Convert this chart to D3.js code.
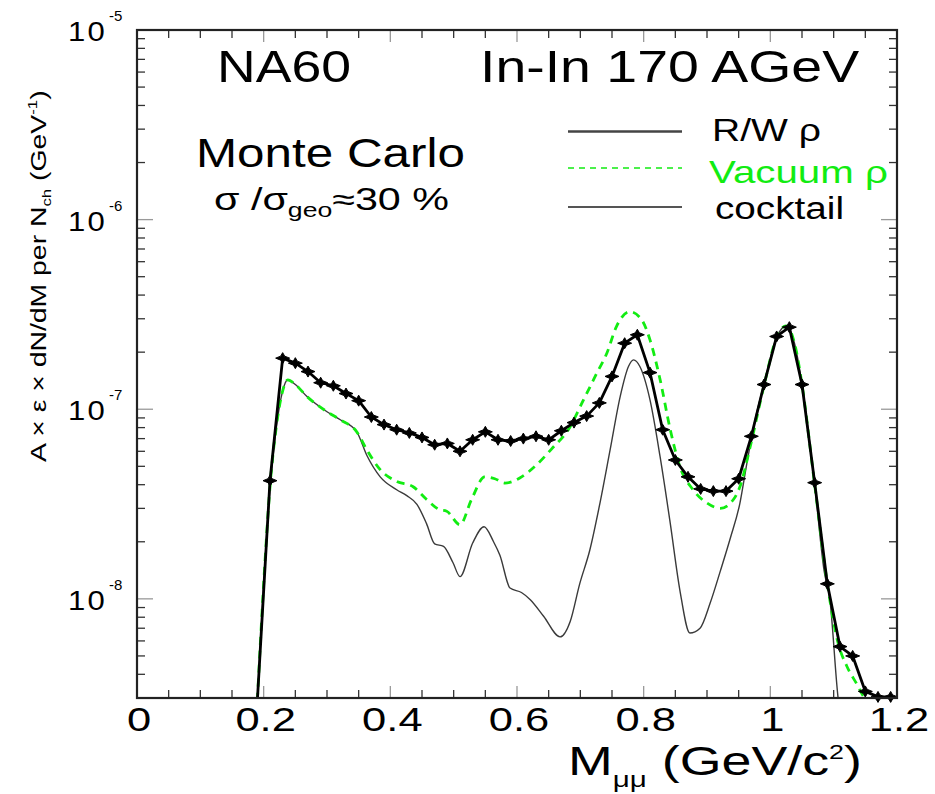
<!DOCTYPE html>
<html>
<head>
<meta charset="utf-8">
<script src="https://cdn.jsdelivr.net/npm/d3@7"></script>
<style>
  html, body { margin: 0; padding: 0; background: #fff; }
  svg { display: block; font-family: "Liberation Sans", Arial, Helvetica, sans-serif; }
</style>
</head>
<body>
<svg id="chart" width="935" height="794"></svg>
<script>
// ---------------- data ----------------
// R/W rho (thick black line with markers), 20 MeV bins
const rwMass = [0.19,0.21,0.23,0.25,0.27,0.29,0.31,0.33,0.35,0.37,0.39,0.41,0.43,0.45,0.47,0.49,0.51,0.53,0.55,0.57,0.59,
  0.61,0.63,0.65,0.67,0.69,0.71,0.73,0.75,0.77,0.79,0.81,0.83,0.85,0.87,0.89,0.91,0.93,0.95,0.97,0.99,
  1.01,1.03,1.05,1.07,1.09,1.11,1.13,1.15,1.17,1.19];
const rwValue = [2.9e-9,4.2e-8,1.86e-7,1.75e-7,1.58e-7,1.38e-7,1.33e-7,1.21e-7,1.11e-7,9.1e-8,8.3e-8,7.8e-8,7.5e-8,7.1e-8,6.5e-8,6.6e-8,6.0e-8,6.9e-8,7.6e-8,6.9e-8,6.8e-8,
  7.0e-8,7.2e-8,6.9e-8,7.7e-8,8.5e-8,9.2e-8,1.08e-7,1.49e-7,2.23e-7,2.47e-7,1.56e-7,7.8e-8,5.4e-8,4.4e-8,3.8e-8,3.7e-8,3.7e-8,4.3e-8,7.2e-8,1.35e-7,
  2.42e-7,2.71e-7,1.35e-7,4.1e-8,1.2e-8,5.6e-9,5.0e-9,3.25e-9,3.04e-9,3.04e-9];

// Vacuum rho (green dashed)
const vacMass = [0.19,0.20,0.21,0.22,0.23,0.238,0.25,0.268,0.30,0.321,0.347,0.363,0.384,0.41,0.436,0.457,0.478,0.489,0.51,0.528,0.549,
  0.565,0.581,0.605,0.631,0.657,0.681,0.705,0.726,0.742,0.757,0.778,0.797,0.81,0.826,0.842,0.857,0.878,0.90,0.921,0.942,0.952,0.968,
  0.99,1.01,1.025,1.04,1.05,1.07,1.09,1.107,1.121,1.137,1.147,1.155];
const vacValue = [2.9e-9,1.2e-8,3.9e-8,8.1e-8,1.25e-7,1.43e-7,1.35e-7,1.17e-7,9.7e-8,8.8e-8,7.6e-8,6.1e-8,4.8e-8,4.16e-8,3.9e-8,3.35e-8,2.95e-8,2.9e-8,2.46e-8,3.33e-8,4.4e-8,
  4.3e-8,4.08e-8,4.35e-8,5.1e-8,6.3e-8,7.8e-8,1.12e-7,1.55e-7,1.98e-7,2.73e-7,3.27e-7,2.96e-7,2.32e-7,1.43e-7,7.8e-8,5.0e-8,3.76e-8,3.2e-8,3.0e-8,3.35e-8,3.9e-8,6.3e-8,
  1.33e-7,2.4e-7,2.75e-7,2.1e-7,1.35e-7,4.0e-8,1.2e-8,5.85e-9,4.4e-9,3.53e-9,3.06e-9,2.8e-9];

// cocktail (thin gray)
const cockMass = [0.19,0.20,0.21,0.22,0.23,0.238,0.25,0.268,0.30,0.321,0.347,0.363,0.384,0.41,0.426,0.442,0.457,0.470,0.484,0.499,0.51,
  0.53,0.548,0.563,0.573,0.589,0.607,0.621,0.642,0.668,0.684,0.699,0.715,0.731,0.747,0.763,0.776,0.784,0.794,0.81,0.826,0.842,0.857,
  0.873,0.889,0.905,0.921,0.937,0.952,0.963,0.975,0.99,1.01,1.025,1.04,1.05,1.07,1.085,1.094,1.107,1.115];
const cockValue = [2.9e-9,1.2e-8,3.8e-8,8.0e-8,1.25e-7,1.43e-7,1.35e-7,1.17e-7,9.7e-8,8.8e-8,7.6e-8,5.7e-8,4.4e-8,3.76e-8,3.5e-8,3.15e-8,2.5e-8,1.95e-8,1.89e-8,1.55e-8,1.31e-8,
  1.97e-8,2.4e-8,2.0e-8,1.7e-8,1.14e-8,1.08e-8,9.9e-9,8.1e-9,6.3e-9,7.6e-9,1.2e-8,1.81e-8,3.2e-8,6.1e-8,1.17e-7,1.68e-7,1.82e-7,1.68e-7,1.12e-7,5.6e-8,2.5e-8,1.12e-8,
  6.6e-9,7.0e-9,9.5e-9,1.4e-8,2.1e-8,3.2e-8,5.2e-8,8.5e-8,1.35e-7,2.4e-7,2.75e-7,2.1e-7,1.35e-7,4.0e-8,1.4e-8,9.9e-9,3.0e-9,2.0e-9];

const xMajorTicks = [0, 0.2, 0.4, 0.6, 0.8, 1.0, 1.2];
const xTickLabels = ["0", "0.2", "0.4", "0.6", "0.8", "1", "1.2"];
const yDecades = [1e-8, 1e-7, 1e-6, 1e-5];
const yTickExponents = ["-8", "-7", "-6", "-5"];
const legendLabels = ["R/W \u03c1", "Vacuum \u03c1", "cocktail"];

// ---------------- layout ----------------
const L = 137, R = 897, T = 30, B = 698;
const svg = d3.select("#chart");
const x = d3.scaleLinear().domain([0, 1.2]).range([L, R]);
const y = d3.scaleLog().domain([3e-9, 1e-5]).range([B, T]);
const green = "#12ec12";

function fitText(sel, tx, ty, targetW, rot) {
  const w = sel.node().getBBox().width;
  const s = targetW / w;
  sel.attr("transform", `translate(${tx},${ty})` + (rot ? ` rotate(${rot})` : "") + ` scale(${s},1)`);
  return sel;
}

svg.append("defs").append("clipPath").attr("id", "plotclip")
  .append("rect").attr("x", L).attr("y", T).attr("width", R - L).attr("height", B - T);

// ---------------- ticks ----------------
const tickG = svg.append("g").attr("stroke", "#333").attr("stroke-width", 1.3);
const xMinor = d3.range(0, 1.2001, 0.05).map(v => +v.toFixed(2));
xMinor.forEach(v => {
  const isMaj = Math.abs(v / 0.2 - Math.round(v / 0.2)) < 1e-6;
  const len = isMaj ? 12 : 8;
  const px = x(v);
  tickG.append("line").attr("x1", px).attr("x2", px).attr("y1", B).attr("y2", B - len)
    .attr("stroke", isMaj ? "#999" : "#333");
  tickG.append("line").attr("x1", px).attr("x2", px).attr("y1", T).attr("y2", T + len)
    .attr("stroke", isMaj ? "#999" : "#333");
});
const yMinor = [];
[1e-9, 1e-8, 1e-7, 1e-6].forEach(d => { for (let k = 2; k <= 9; k++) { const v = k * d; if (v >= 3e-9 && v <= 1e-5) yMinor.push(v); } });
yMinor.forEach(v => {
  const py = y(v);
  tickG.append("line").attr("x1", L).attr("x2", L + 8).attr("y1", py).attr("y2", py);
  tickG.append("line").attr("x1", R).attr("x2", R - 8).attr("y1", py).attr("y2", py);
});
yDecades.forEach(v => {
  const py = y(v);
  tickG.append("line").attr("x1", L).attr("x2", L + 16).attr("y1", py).attr("y2", py).attr("stroke", "#999");
  tickG.append("line").attr("x1", R).attr("x2", R - 16).attr("y1", py).attr("y2", py).attr("stroke", "#999");
});

// ---------------- curves ----------------
const plot = svg.append("g").attr("clip-path", "url(#plotclip)");
const smooth = d3.line().x(d => x(d[0])).y(d => y(d[1])).curve(d3.curveMonotoneX);
const straight = d3.line().x(d => x(d[0])).y(d => y(d[1]));

plot.append("path").datum(cockMass.map((m, i) => [m, cockValue[i]]))
  .attr("d", smooth).attr("fill", "none").attr("stroke", "#3a3a3a").attr("stroke-width", 1.4);

plot.append("path").datum(vacMass.map((m, i) => [m, vacValue[i]]))
  .attr("d", smooth).attr("fill", "none").attr("stroke", green).attr("stroke-width", 2.8)
  .attr("stroke-dasharray", "8,6");

const rwData = rwMass.map((m, i) => [m, rwValue[i]]);
plot.append("path").datum(rwData)
  .attr("d", straight).attr("fill", "none").attr("stroke", "#000").attr("stroke-width", 2.8)
  .attr("stroke-linejoin", "round");

const starPath = "M-7,0 L-2,-2 L0,-5.5 L2,-2 L7,0 L2,2 L0,5.5 L-2,2 Z";
svg.append("g").selectAll("path").data(rwData.filter(d => d[1] >= 3e-9))
  .join("path").attr("d", starPath)
  .attr("transform", d => `translate(${x(d[0])},${y(d[1])})`)
  .attr("fill", "#000").attr("stroke", "#000").attr("stroke-width", 1);

// ---------------- frame ----------------
svg.append("rect").attr("x", L).attr("y", T).attr("width", R - L).attr("height", B - T)
  .attr("fill", "none").attr("stroke", "#222").attr("stroke-width", 2.2);

// ---------------- tick labels ----------------
xMajorTicks.forEach((v, i) => {
  const t = svg.append("text").attr("text-anchor", "middle").attr("font-size", 34).attr("fill", "#000")
    .text(xTickLabels[i]);
  t.attr("transform", `translate(${x(v) + 2},731) scale(1.28,1)`);
});
yDecades.forEach((v, i) => {
  const py = y(v);
  const t = svg.append("text").attr("text-anchor", "end").attr("font-size", 27).attr("fill", "#000")
    .attr("letter-spacing", 2).text("10");
  t.attr("transform", `translate(107,${py + 11}) scale(1.15,1)`);
  svg.append("text").attr("x", 109).attr("y", py - 9).attr("font-size", 15).attr("fill", "#000")
    .text(yTickExponents[i]);
});

// ---------------- axis titles ----------------
const xt = svg.append("text").attr("font-size", 40).attr("fill", "#000");
xt.append("tspan").text("M");
xt.append("tspan").attr("font-size", 22).attr("dy", 12).text("\u03bc\u03bc");
xt.append("tspan").attr("dy", -12).text(" (GeV/c");
xt.append("tspan").attr("font-size", 20).attr("dy", -16).text("2");
xt.append("tspan").attr("dy", 16).text(")");
fitText(xt, 568, 775, 294);

const yt = svg.append("text").attr("font-size", 22).attr("fill", "#000");
yt.append("tspan").text("A \u00d7 \u03b5 \u00d7 dN/dM per N");
yt.append("tspan").attr("font-size", 13).attr("dy", 5).text("ch");
yt.append("tspan").attr("dy", -5).text(" (GeV");
yt.append("tspan").attr("font-size", 13).attr("dy", -9).text("-1");
yt.append("tspan").attr("dy", 9).text(")");
fitText(yt, 46, 462, 372, -90);

// ---------------- annotations ----------------
fitText(svg.append("text").attr("font-size", 44).attr("fill", "#000").text("NA60"), 217, 81.5, 134);
fitText(svg.append("text").attr("font-size", 44).attr("fill", "#000").text("In-In 170 AGeV"), 480, 81.5, 380);
fitText(svg.append("text").attr("font-size", 40).attr("fill", "#000").text("Monte Carlo"), 196, 166.5, 269);

const sg = svg.append("text").attr("font-size", 31).attr("fill", "#000");
sg.append("tspan").text("\u03c3 /\u03c3");
sg.append("tspan").attr("font-size", 20).attr("dy", 7).text("geo");
sg.append("tspan").attr("dy", -7).text("\u224830 %");
fitText(sg, 214, 210, 235);

// ---------------- legend ----------------
const lg = svg.append("g");
lg.append("line").attr("x1", 568).attr("x2", 682).attr("y1", 131.5).attr("y2", 131.5)
  .attr("stroke", "#444").attr("stroke-width", 2.4);
lg.append("line").attr("x1", 568).attr("x2", 682).attr("y1", 168).attr("y2", 168)
  .attr("stroke", green).attr("stroke-width", 1.6).attr("stroke-dasharray", "6,5");
lg.append("line").attr("x1", 568).attr("x2", 682).attr("y1", 207).attr("y2", 207)
  .attr("stroke", "#555").attr("stroke-width", 1.8);
fitText(lg.append("text").attr("font-size", 31).attr("fill", "#000").text(legendLabels[0]), 712, 141, 109);
fitText(lg.append("text").attr("font-size", 31).attr("fill", green).text(legendLabels[1]), 709, 183, 179);
fitText(lg.append("text").attr("font-size", 31).attr("fill", "#000").text(legendLabels[2]), 715, 219, 129);
</script>
</body>
</html>
